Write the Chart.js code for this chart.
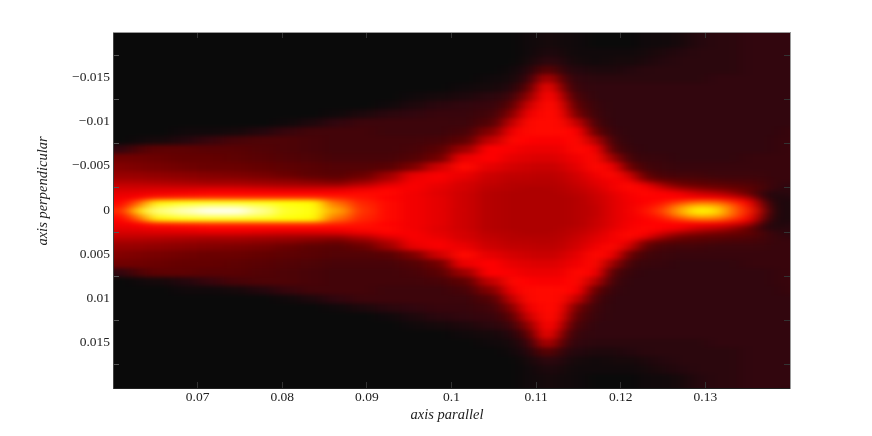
<!DOCTYPE html>
<html>
<head>
<meta charset="utf-8">
<style>
    html, body { margin: 0; background: #fff; }
    canvas { display: block; }
</style>
<script src="https://cdn.jsdelivr.net/npm/chart.js@4"></script>
</head>
<body>
<canvas id="chart" width="872" height="436"></canvas>
<script>
const xTicks = [0.07, 0.08, 0.09, 0.1, 0.11, 0.12, 0.13];
const xLabels = ["0.07", "0.08", "0.09", "0.1", "0.11", "0.12", "0.13"];
const yTicks = [-0.015, -0.01, -0.005, 0, 0.005, 0.01, 0.015];
const yLabels = ["\u22120.015", "\u22120.01", "\u22120.005", "0", "0.005", "0.01", "0.015"];
const xTitle = "axis parallel";
const yTitle = "axis perpendicular";

// cell edges along the parallel axis
const xEdges = [0.06, 0.062, 0.064, 0.067, 0.07, 0.073, 0.076, 0.079, 0.082, 0.085, 0.088, 0.091, 0.094, 0.097, 0.1, 0.103, 0.106, 0.108, 0.11, 0.111, 0.112, 0.113, 0.114, 0.116, 0.118, 0.12, 0.122, 0.124, 0.126, 0.128, 0.13, 0.132, 0.134, 0.136, 0.137, 0.138, 0.139, 0.14];
// row edges away from the centre line, the map is the same on both sides of it
const yEdges = [0, 0.00025, 0.00075, 0.00125, 0.00175, 0.00225, 0.00275, 0.00325, 0.00375, 0.0045, 0.0055, 0.0065, 0.0075, 0.0085, 0.0095, 0.0105, 0.0115, 0.0125, 0.0135, 0.0145, 0.0155, 0.0165, 0.0175, 0.0185, 0.0205];

// heat, 0 to 100, one row per yEdges band
const heat = [
    [45,68,86,93,100,100,88,75,72,60,46,41,38,36,32,28,27,27,27,27,27,27,28,30,35,38,42,48,60,70,68,54,44,30,8,3,3],
    [42,58,78,84,88,88,82,73,71,56,45,41,38,36,32,28,27,27,27,27,27,27,28,30,35,38,41,45,56,64,62,53,42,25,7,3,3],
    [40,50,68,71,72,72,71,70,69,52,44,41,38,36,32,28,27,27,27,27,27,27,28,31,35,38,40,42,47,52,52,46,40,20,6,3,3],
    [38,40,44,45,46,46,46,46,46,44,42,40,38,36,32,28,27,27,27,27,27,27,28,31,35,39,40,40,40,39,38,35,28,10,4,3,4],
    [36,37,38,39,40,40,40,40,40,40,41,41,38,35,32,28,27,27,27,27,27,28,29,32,36,39,41,40,38,32,29,24,16,7,4,4,5],
    [33,33,34,34,35,35,34,33,33,34,37,40,39,36,33,29,28,27,27,27,28,28,30,33,38,41,40,33,26,22,19,17,15,11,8,6,5],
    [30,30,29,28,27,27,26,25,24,23,28,35,39,37,33,30,28,28,28,28,28,29,31,35,38,41,36,24,17,15,14,13,12,10,8,7,6],
    [26,26,25,24,23,23,22,21,19,17,21,28,38,39,35,31,29,29,28,28,29,30,32,36,39,38,20,15,13,12,11,10,10,9,8,7,7],
    [23,23,22,21,20,19,18,16,14,13,16,24,36,39,37,32,30,30,29,29,30,30,33,38,41,32,14,10,9,9,8,8,8,8,7,7,7],
    [20,19,18,17,16,16,15,14,13,12,12,13,19,32,41,36,33,32,31,31,32,33,36,41,38,16,9,8,7,7,7,7,7,7,7,7,7],
    [17,17,16,15,15,14,13,12,11,10,10,10,12,17,37,40,36,35,34,34,35,36,38,41,24,9,7,7,6,6,6,6,7,7,7,7,7],
    [6,11,14,14,13,13,12,11,10,9,9,9,10,13,24,40,39,37,37,37,37,38,41,39,12,7,6,6,6,6,6,6,6,6,6,7,7],
    [0,1,2,4,7,10,11,11,10,9,9,9,9,10,14,30,41,40,39,39,39,40,41,28,9,6,6,6,6,6,6,6,6,6,6,7,7],
    [0,0,0,1,1,2,4,7,9,9,9,8,8,8,10,20,38,41,41,41,41,41,40,15,7,6,6,6,6,6,6,6,6,6,6,6,7],
    [0,0,0,0,0,0,0,1,3,6,8,8,8,8,8,12,30,41,41,41,41,41,30,10,6,6,6,6,6,6,6,6,6,6,6,6,6],
    [0,0,0,0,0,0,0,0,0,1,3,5,6,7,7,9,20,38,41,41,41,38,17,8,6,6,6,6,6,6,6,6,6,6,6,6,6],
    [0,0,0,0,0,0,0,0,0,0,0,1,3,5,6,7,13,32,41,41,41,31,13,7,6,6,6,6,6,6,6,6,6,6,6,6,6],
    [0,0,0,0,0,0,0,0,0,0,0,0,1,2,3,5,8,22,40,41,38,20,10,6,6,6,6,6,6,6,6,6,6,6,6,6,6],
    [0,0,0,0,0,0,0,0,0,0,0,0,0,0,1,2,4,13,38,41,28,13,7,6,6,6,6,6,6,6,6,6,6,6,6,6,6],
    [0,0,0,0,0,0,0,0,0,0,0,0,0,0,0,1,2,7,26,32,18,9,6,5,5,5,5,5,5,5,6,6,6,6,6,6,6],
    [0,0,0,0,0,0,0,0,0,0,0,0,0,0,0,0,1,4,13,15,9,5,4,3,3,4,5,5,5,5,5,5,6,6,6,6,6],
    [0,0,0,0,0,0,0,0,0,0,0,0,0,0,0,0,0,2,5,6,5,3,2,1,2,2,3,4,5,5,5,5,6,6,6,6,6],
    [0,0,0,0,0,0,0,0,0,0,0,0,0,0,0,0,0,1,3,3,3,2,1,1,1,1,2,3,4,5,5,5,6,6,6,6,6],
    [0,0,0,0,0,0,0,0,0,0,0,0,0,0,0,0,0,1,2,2,2,1,1,0,0,0,1,1,2,4,5,5,6,6,6,6,6]
];

const colorStops = [
    [0, 10, 10, 10],
    [6, 50, 6, 14],
    [15, 100, 0, 0],
    [40, 255, 0, 0],
    [70, 255, 255, 0],
    [100, 255, 255, 255]
];

const plotHeight = 356;
const yMax = 0.0202;
const serif = "'Liberation Serif', 'Times New Roman', serif";

function heatColor(v) {
    for (let i = 1; i < colorStops.length; i++) {
        const a = colorStops[i - 1];
        const b = colorStops[i];
        if (v <= b[0]) {
            const t = (v - a[0]) / (b[0] - a[0]);
            return "rgb(" + Math.round(a[1] + t * (b[1] - a[1])) + "," + Math.round(a[2] + t * (b[2] - a[2])) + "," + Math.round(a[3] + t * (b[3] - a[3])) + ")";
        }
    }
    return "#fff";
}

function rowDataset(row, lo, hi) {
    return {
        data: row.map(function (v, i) {
            return { x: [xEdges[i], xEdges[i + 1]], y: (lo + hi) / 2 };
        }),
        backgroundColor: row.map(heatColor),
        borderWidth: 0,
        barThickness: (hi - lo) / (2 * yMax) * plotHeight + 1
    };
}

const datasets = [];
for (let i = heat.length - 1; i > 0; i--) {
    datasets.push(rowDataset(heat[i], -yEdges[i + 1], -yEdges[i]));
}
datasets.push(rowDataset(heat[0], -yEdges[1], yEdges[1]));
for (let i = 1; i < heat.length; i++) {
    datasets.push(rowDataset(heat[i], yEdges[i], yEdges[i + 1]));
}

// the original is an interpolated raster, soften the cell steps the same way.
// blurred while squeezed so it is wider along x than y, the columns are wider than the rows
const smoothCells = {
    id: "smoothCells",
    afterDatasetsDraw: function (chart) {
        const area = chart.chartArea;
        const src = chart.canvas;
        const pad = 14;
        const squeeze = 3.5;
        const w = Math.round(area.width);
        const h = Math.round(area.height);
        const sw = Math.round(w / squeeze);
        const tmp = document.createElement("canvas");
        tmp.width = sw + pad * 2;
        tmp.height = h + pad * 2;
        const t = tmp.getContext("2d");
        // repeat the edge pixels so the blur has something to read past the frame
        t.drawImage(src, area.left + 1, area.top, 1, h, 0, pad, pad, h);
        t.drawImage(src, area.left + w - 2, area.top, 1, h, sw + pad, pad, pad, h);
        t.drawImage(src, area.left, area.top + 1, w, 1, pad, 0, sw, pad);
        t.drawImage(src, area.left, area.top + h - 2, w, 1, pad, h + pad, sw, pad);
        t.drawImage(src, area.left, area.top, w, h, pad, pad, sw, h);
        const soft = document.createElement("canvas");
        soft.width = tmp.width;
        soft.height = tmp.height;
        const s = soft.getContext("2d");
        s.filter = "blur(2px)";
        s.drawImage(tmp, 0, 0);
        const ctx = chart.ctx;
        ctx.save();
        ctx.beginPath();
        ctx.rect(area.left, area.top, w, h);
        ctx.clip();
        ctx.imageSmoothingEnabled = true;
        ctx.drawImage(soft, area.left - pad * w / sw, area.top - pad, soft.width * w / sw, soft.height);
        ctx.restore();
    }
};

// titles sit off centre in the reference, so they are placed by hand
const axisTitles = {
    id: "axisTitles",
    afterDraw: function (chart) {
        const ctx = chart.ctx;
        ctx.save();
        ctx.fillStyle = "#222";
        ctx.font = "italic 14.5px " + serif;
        ctx.textAlign = "center";
        ctx.textBaseline = "middle";
        ctx.fillText(xTitle, 447, 415);
        ctx.translate(43, 191);
        ctx.rotate(-Math.PI / 2);
        ctx.fillText(yTitle, 0, 0);
        ctx.restore();
    }
};

function setTicks(values) {
    return function (scale) {
        scale.ticks = values.map(function (v) {
            return { value: v };
        });
    };
}

function frameScale(position, range, values, size) {
    return Object.assign({
        type: "linear",
        position: position,
        offset: false,
        afterBuildTicks: setTicks(values),
        afterFit: function (scale) {
            if (size === "w") {
                scale.width = 0;
            } else {
                scale.height = 0;
            }
        },
        ticks: { display: false },
        border: { color: "#9a9a9a", z: 2 },
        grid: { drawOnChartArea: false, tickLength: -6, tickColor: "#333", z: 1 }
    }, range);
}

new Chart(document.getElementById("chart"), {
    type: "bar",
    data: { datasets: datasets },
    plugins: [smoothCells, axisTitles],
    options: {
        indexAxis: "y",
        responsive: false,
        animation: false,
        layout: { padding: { left: 0, right: 82, top: 32, bottom: 0 } },
        datasets: { bar: { grouped: false } },
        plugins: { legend: { display: false }, tooltip: { enabled: false } },
        scales: {
            x: {
                type: "linear",
                min: 0.06,
                max: 0.14,
                offset: false,
                afterBuildTicks: setTicks(xTicks),
                afterFit: function (scale) {
                    scale.height = 48;
                },
                ticks: {
                    padding: 7,
                    maxRotation: 0,
                    color: "#222",
                    font: { family: serif, size: 13.5 },
                    callback: function (v) {
                        return xLabels[xTicks.indexOf(v)];
                    }
                },
                border: { color: "#222", z: 2 },
                grid: { drawOnChartArea: false, tickLength: -6, tickColor: "#333", z: 1 }
            },
            y: {
                type: "linear",
                reverse: true,
                min: -yMax,
                max: yMax,
                offset: false,
                afterBuildTicks: setTicks(yTicks),
                afterFit: function (scale) {
                    scale.width = 113;
                },
                ticks: {
                    padding: 9,
                    color: "#222",
                    font: { family: serif, size: 13.5 },
                    callback: function (v) {
                        return yLabels[yTicks.indexOf(v)];
                    }
                },
                border: { color: "#444", z: 2 },
                grid: { drawOnChartArea: false, tickLength: -6, tickColor: "#555", z: 1 }
            },
            x2: frameScale("top", { min: 0.06, max: 0.14 }, xTicks, "h"),
            y2: frameScale("right", { min: -yMax, max: yMax, reverse: true }, yTicks, "w")
        }
    }
});
</script>
</body>
</html>
